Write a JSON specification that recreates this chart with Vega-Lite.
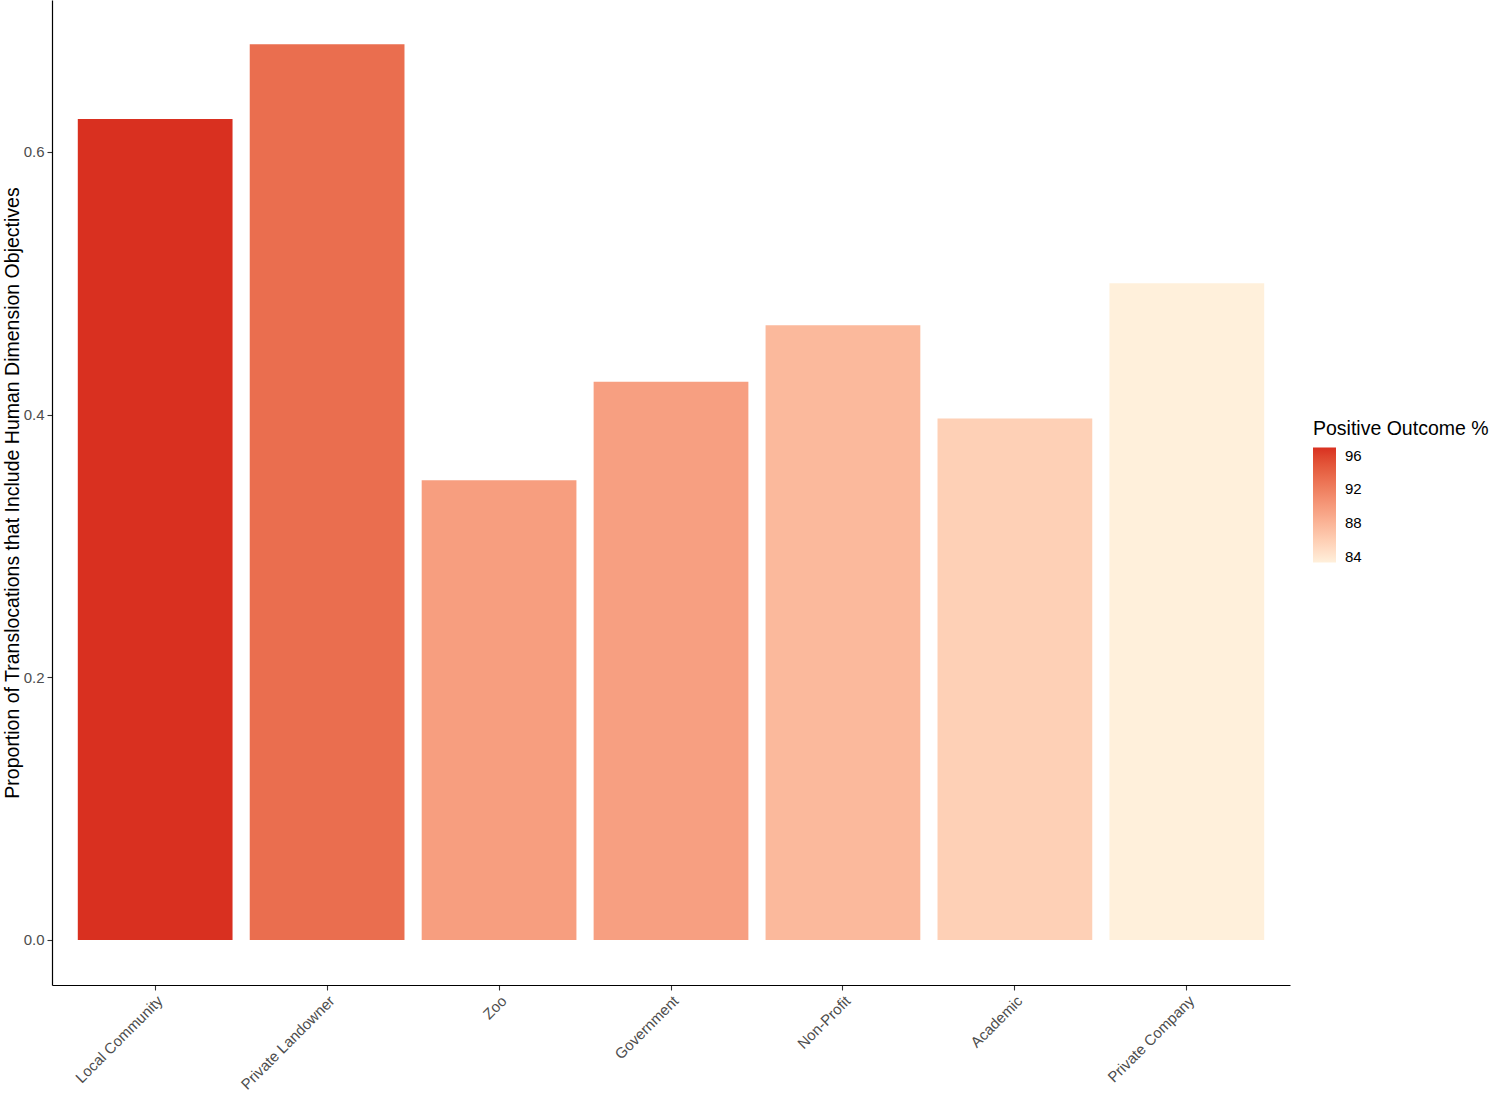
{
  "$schema": "https://vega.github.io/schema/vega-lite/v6.json",
  "autosize": "none",
  "width": 1238,
  "height": 985,
  "padding": {"left": 52, "top": 0, "right": 201, "bottom": 109},
  "background": "white",
  "data": {
    "values": [
      {"sector": "Local Community", "proportion": 0.625, "positive": 97.0},
      {"sector": "Private Landowner", "proportion": 0.682, "positive": 93.3},
      {"sector": "Zoo", "proportion": 0.350, "positive": 89.7},
      {"sector": "Government", "proportion": 0.425, "positive": 89.6},
      {"sector": "Non-Profit", "proportion": 0.468, "positive": 87.6},
      {"sector": "Academic", "proportion": 0.397, "positive": 85.8},
      {"sector": "Private Company", "proportion": 0.500, "positive": 83.3}
    ]
  },
  "config": {
    "view": {"stroke": null},
    "font": "Liberation Sans",
    "axis": {"grid": false, "domainColor": "black", "domainWidth": 1.2, "tickColor": "#333333", "tickWidth": 1.1, "tickSize": 5, "labelColor": "#4d4d4d", "labelFontSize": 15, "labelPadding": 3}
  },
  "mark": {"type": "bar"},
  "encoding": {
    "x": {
      "field": "sector",
      "type": "nominal",
      "sort": null,
      "scale": {"paddingInner": 0.1, "paddingOuter": 0.15},
      "axis": {"title": null, "labelAngle": -45, "labelAlign": "right", "labelBaseline": "top", "labelPadding": 3, "labelFontSize": 15}
    },
    "y": {
      "field": "proportion",
      "type": "quantitative",
      "scale": {"domain": [-0.0343, 0.7157], "nice": false, "zero": false},
      "axis": {"title": "Proportion of Translocations that Include Human Dimension Objectives", "titleFontSize": 19.5, "titleFontWeight": "normal", "titleColor": "black", "titlePadding": 1, "values": [0, 0.2, 0.4, 0.6], "format": ".1f"}
    },
    "color": {
      "field": "positive",
      "type": "quantitative",
      "scale": {"domain": [83.3, 97.0], "range": ["#FFF0DB", "#D93020"], "interpolate": "lab"},
      "legend": {
        "title": "Positive Outcome %",
        "orient": "none",
        "legendX": 1261,
        "legendY": 420,
        "titleFontSize": 19.5,
        "titleFontWeight": "normal",
        "titleColor": "black",
        "titlePadding": 8,
        "gradientLength": 115,
        "gradientThickness": 23,
        "labelFontSize": 15,
        "labelColor": "black",
        "values": [84, 88, 92, 96],
        "labelOffset": 9
      }
    }
  }
}
